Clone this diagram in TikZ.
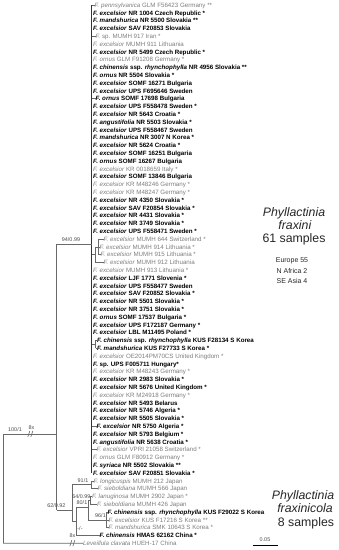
\documentclass[tikz,border=0pt]{standalone}
\usepackage{fontspec}
\setmainfont{Liberation Sans}
\definecolor{tg}{RGB}{125,125,125}
\definecolor{ln}{RGB}{105,105,105}
\definecolor{sg}{RGB}{75,75,75}
\newcommand\lf[4]{\node[#3] (l#1) at (#2,{5+7.8*(#1-1)}) {#4};}
\begin{document}
\begin{tikzpicture}[x=1pt,y=-1pt,
  leaf/.style={anchor=west, inner sep=0pt, text height=5pt, text depth=0.6pt, font=\fontsize{6.2}{7}\selectfont},
  lb/.style={leaf, font=\fontsize{6.2}{7}\selectfont\bfseries, text=black},
  lg/.style={leaf, text=tg},
  br/.style={draw=ln, line width=0.6pt},
  sup/.style={inner sep=0.3pt, font=\fontsize{5.4}{6}\selectfont, text=sg},
  big/.style={inner sep=0pt, font=\fontsize{12.3}{14}\selectfont, text=black!85},
  small/.style={inner sep=0pt, font=\fontsize{7}{8}\selectfont, text=black!85}]
\useasboundingbox (0,0) rectangle (339,550);
% ---------- leaves: Phyllactinia fraxini ----------
\lf{1}{94.5}{lg}{\textit{F. pennsylvanica} GLM F56423 Germany **}
\lf{2}{93}{lb}{\textit{F. excelsior} NR 1004 Czech Republic *}
\lf{3}{93}{lb}{\textit{F. mandshurica} NR 5500 Slovakia **}
\lf{4}{93}{lb}{\textit{F. excelsior} SAV F20853 Slovakia}
\lf{5}{95.5}{lg}{\textit{F.} sp. MUMH 917 Iran *}
\lf{6}{93}{lg}{\textit{F. excelsior} MUMH 911 Lithuania}
\lf{7}{93}{lb}{\textit{F. excelsior} NR 5499 Czech Republic *}
\lf{8}{93}{lg}{\textit{F. ornus} GLM F91208 Germany *}
\lf{9}{93}{lb}{\textit{F. chinensis} ssp. \textit{rhynchophylla} NR 4956 Slovakia **}
\lf{10}{93}{lb}{\textit{F. ornus} NR 5504 Slovakia *}
\lf{11}{93}{lb}{\textit{F. excelsior} SOMF 16271 Bulgaria}
\lf{12}{93}{lb}{\textit{F. excelsior} UPS F695646 Sweden}
\lf{13}{95.5}{lb}{\textit{F. ornus} SOMF 17698 Bulgaria}
\lf{14}{93}{lb}{\textit{F. excelsior} UPS F558478 Sweden *}
\lf{15}{93}{lb}{\textit{F. excelsior} NR 5643 Croatia *}
\lf{16}{93}{lb}{\textit{F. angustifolia} NR 5503 Slovakia *}
\lf{17}{93}{lb}{\textit{F. excelsior} UPS F558467 Sweden}
\lf{18}{93}{lb}{\textit{F. mandshurica} NR 3007 N Korea *}
\lf{19}{93}{lb}{\textit{F. excelsior} NR 5624 Croatia *}
\lf{20}{93}{lb}{\textit{F. excelsior} SOMF 16251 Bulgaria}
\lf{21}{93}{lb}{\textit{F. ornus} SOMF 16267 Bulgaria}
\lf{22}{93}{lg}{\textit{F. excelsior} KR 0018659 Italy *}
\lf{23}{93}{lb}{\textit{F. excelsior} SOMF 13846 Bulgaria}
\lf{24}{93}{lg}{\textit{F. excelsior} KR M48246 Germany *}
\lf{25}{93}{lg}{\textit{F. excelsior} KR M48247 Germany *}
\lf{26}{93}{lb}{\textit{F. excelsior} NR 4350 Slovakia *}
\lf{27}{93}{lb}{\textit{F. excelsior} SAV F20854 Slovakia *}
\lf{28}{93}{lb}{\textit{F. excelsior} NR 4431 Slovakia *}
\lf{29}{93}{lb}{\textit{F. excelsior} NR 3749 Slovakia *}
\lf{30}{93}{lb}{\textit{F. excelsior} UPS F558471 Sweden *}
\lf{31}{103.5}{lg}{\textit{F. excelsior} MUMH 644 Switzerland *}
\lf{32}{99.5}{lg}{\textit{F. excelsior} MUMH 914 Lithuania *}
\lf{33}{100.5}{lg}{\textit{F. excelsior} MUMH 915 Lithuania *}
\lf{34}{103.5}{lg}{\textit{F. excelsior} MUMH 912 Lithuania}
\lf{35}{93}{lg}{\textit{F. excelsior} MUMH 913 Lithuania *}
\lf{36}{93}{lb}{\textit{F. excelsior} LJF 1771 Slovenia *}
\lf{37}{93}{lb}{\textit{F. excelsior} UPS F558477 Sweden}
\lf{38}{93}{lb}{\textit{F. excelsior} SAV F20852 Slovakia *}
\lf{39}{93}{lb}{\textit{F. excelsior} NR 5501 Slovakia *}
\lf{40}{93}{lb}{\textit{F. excelsior} NR 3751 Slovakia *}
\lf{41}{93}{lb}{\textit{F. ornus} SOMF 17537 Bulgaria *}
\lf{42}{93}{lb}{\textit{F. excelsior} UPS F172187 Germany *}
\lf{43}{93}{lb}{\textit{F. excelsior} LBL M11495 Poland *}
\lf{44}{97}{lb}{\textit{F. chinensis} ssp. \textit{rhynchophylla} KUS F28134 S Korea}
\lf{45}{97}{lb}{\textit{F. mandshurica} KUS F27733 S Korea *}
\lf{46}{93}{lg}{\textit{F. excelsior} OE2014PM70CS United Kingdom *}
\lf{47}{93}{lb}{\textit{F.} sp. UPS F005711 Hungary*}
\lf{48}{93}{lg}{\textit{F. excelsior} KR M48243 Germany *}
\lf{49}{93}{lb}{\textit{F. excelsior} NR 2983 Slovakia *}
\lf{50}{93}{lb}{\textit{F. excelsior} NR 5676 United Kingdom *}
\lf{51}{93}{lg}{\textit{F. excelsior} KR M24918 Germany *}
\lf{52}{93}{lb}{\textit{F. excelsior} NR 5493 Belarus}
\lf{53}{93}{lb}{\textit{F. excelsior} NR 5746 Algeria *}
\lf{54}{93}{lb}{\textit{F. excelsior} NR 5505 Slovakia *}
\lf{55}{96.5}{lb}{\textit{F. excelsior} NR 5750 Algeria *}
\lf{56}{93}{lb}{\textit{F. excelsior} NR 5793 Belgium *}
\lf{57}{93}{lb}{\textit{F. angustifolia} NR 5638 Croatia *}
\lf{58}{96.5}{lg}{\textit{F. excelsior} VPRI 21058 Switzerland *}
\lf{59}{93}{lg}{\textit{F. ornus} GLM F80912 Germany *}
\lf{60}{93}{lb}{\textit{F. syriaca} NR 5502 Slovakia **}
\lf{61}{93}{lb}{\textit{F. excelsior} SAV F20851 Slovakia *}
% ---------- leaves: Phyllactinia fraxinicola ----------
\lf{62}{93.5}{lg}{\textit{F. longicuspis} MUMH 212 Japan}
\lf{63}{97.5}{lg}{\textit{F. sieboldiana} MUMH 566 Japan}
\lf{64}{92}{lg}{\textit{F. lanuginosa} MUMH 2902 Japan *}
\lf{65}{97}{lg}{\textit{F. sieboldiana} MUMH 426 Japan}
\lf{66}{107.5}{lb}{\textit{F. chinensis} ssp. \textit{rhynchophylla} KUS F29022 S Korea}
\lf{67}{108.5}{lg}{\textit{F. excelsior} KUS F17216 S Korea **}
\lf{68}{108.5}{lg}{\textit{F. mandshurica} SMK 10643 S Korea *}
\lf{69}{99.5}{lb}{\textit{F. chinensis} HMAS 62162 China *}
\lf{70}{83}{lg}{\textit{Leveillula clavata} HUEH-17 China}
% ---------- main polytomy bar ----------
\coordinate (bt) at (91.5,5);
\coordinate (bb) at (91.5,473);
\draw[line width=1.5pt, draw=black!80] (bt) -- (bb);
\foreach \k in {1,5,13,55,58} \draw[br] (l\k.west -| bt) -- (l\k.west);
% MUMH subclade
\coordinate (S1) at (95,254.6);
\coordinate (S2) at (98,246.8);
\draw[br] (S1 -| bt) -- (S1);
\draw[br] (S1 |- S2) -- (S1 |- l34.west) -- (l34.west);
\draw[br] (S1 |- S2) -- (S2);
\draw[br] (S2 |- l31.west) -- (S2 |- l33.west);
\foreach \k in {31,32,33} \draw[br] (S2 |- l\k.west) -- (l\k.west);
% KUS pair
\coordinate (K) at (95.5,344.3);
\draw[br] (K -| bt) -- (K);
\draw[br] (K |- l44.west) -- (K |- l45.west);
\foreach \k in {44,45} \draw[br] (K |- l\k.west) -- (l\k.west);
% ---------- backbone ----------
\coordinate (I) at (56.5,244);
\coordinate (Ib) at (56.5,510);
\draw[br] (I) -- (Ib);
\draw[br] (I) -- (I -| bt);
\node[sup, anchor=south] (s94) at (71,242.5) {94/0.99};
\coordinate (R) at (3,434);
\coordinate (Rb) at (3,543.2);
\draw[br] (R) -- (Rb);
\draw[br] (R) -- (R -| I);
\draw[br] (27.8,437) -- (29.8,431) (30.8,437) -- (32.8,431);
\node[sup, anchor=south] (e1) at (31.5,430) {8x};
\node[sup, anchor=south] (s100) at (15,432) {100/1};
\draw[br] (Rb) -- (l70.west);
\draw[br] (69.8,546.2) -- (71.8,540.2) (72.8,546.2) -- (74.8,540.2);
\node[sup, anchor=south] (e2) at (72.5,538.5) {8x};
% ---------- fraxinicola clade ----------
\coordinate (F) at (72,484.7);
\coordinate (Fb) at (72,521);
\draw[br] (F) -- (Fb);
\draw[br] (Ib) -- (Ib -| F);
\node[sup, anchor=south east] (s62) at (66,508.5) {62/0.92};
\coordinate (N91) at (91,484.7);
\draw[br] (F) -- (N91);
\node[sup, anchor=south] (s91) at (83,483.2) {91/1};
\draw[br] (N91 |- l62.west) -- (N91 |- l63.west);
\foreach \k in {62,63} \draw[br] (N91 |- l\k.west) -- (l\k.west);
\coordinate (H) at (76,521);
\coordinate (Ht) at (76,507);
\draw[br] (Fb) -- (H);
\draw[br] (Ht) -- (H |- l69.west) -- (l69.west);
\node[sup] (sd) at (80,528.5) {-/-};
\coordinate (N80) at (88,507);
\draw[br] (Ht) -- (N80);
\node[sup, anchor=south] (s80) at (82,505.5) {80/1};
\coordinate (N64) at (90,500.3);
\coordinate (N96) at (106,519.8);
\draw[br] (N80 |- N64) -- (N80 |- N96);
\draw[br] (N80 |- N64) -- (N64);
\node[sup, anchor=south east] (s64) at (91,498.8) {64/0.99};
\draw[br] (N64 |- l64.west) -- (N64 |- l65.west);
\foreach \k in {64,65} \draw[br] (N64 |- l\k.west) -- (l\k.west);
\draw[br] (N80 |- N96) -- (N96);
\node[sup, anchor=south] (s96) at (100.5,518.3) {96/1};
\draw[br] (N96 |- l66.west) -- (N96 |- l68.west);
\foreach \k in {66,67,68} \draw[br] (N96 |- l\k.west) -- (l\k.west);
% ---------- clade texts ----------
\node[big, anchor=base] (pf1) at (294,216) {\textit{Phyllactinia}};
\node[big, anchor=base] (pf2) at (295,229) {\textit{fraxini}};
\node[big, anchor=base] (pf3) at (294,242) {61 samples};
\node[small, anchor=base] (eu) at (292,262.5) {Europe 55};
\node[small, anchor=base] (na) at (292,273) {N Africa 2};
\node[small, anchor=base] (se) at (292,283.5) {SE Asia 4};
\node[big, anchor=base] (pc1) at (303,499.5) {\textit{Phyllactinia}};
\node[big, anchor=base] (pc2) at (305,512.5) {\textit{fraxinicola}};
\node[big, anchor=base] (pc3) at (306,526) {8 samples};
% ---------- scale bar ----------
\node[sup, anchor=base] (sc) at (265,541) {0.05};
\coordinate (sb1) at (253,545.7);
\coordinate (sb2) at (278,545.7);
\draw[line width=1.2pt, black] (sb1) -- (sb2);
\end{tikzpicture}
\end{document}
